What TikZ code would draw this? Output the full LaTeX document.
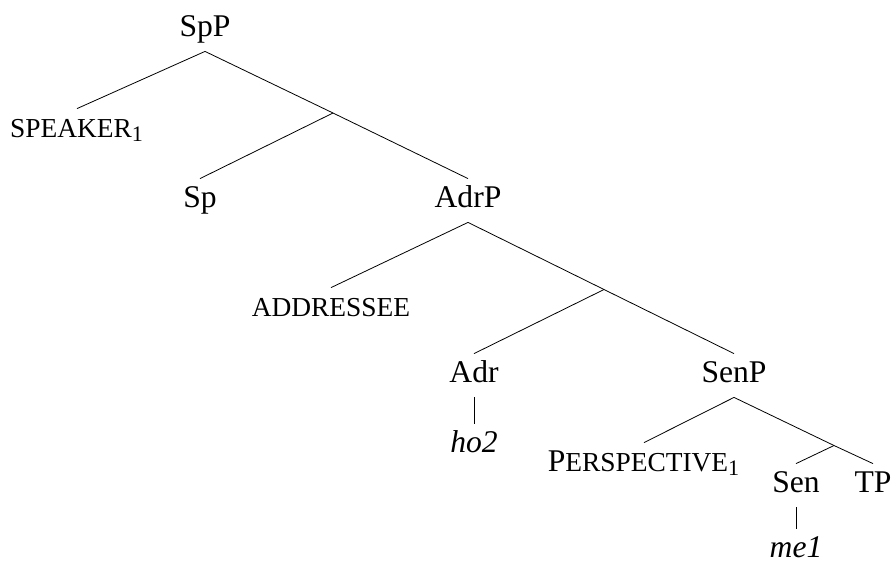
\documentclass[tikz,border=0pt]{standalone}
\usepackage{fontspec}
\setmainfont{Liberation Serif}
\newcommand{\fsc}[1]{{\fontsize{13.7}{16}\selectfont #1}}
\tikzset{
  lab/.style={anchor=base, inner sep=4pt, text height=10pt, text depth=3.5pt},
}
\begin{document}
\begin{tikzpicture}[x=0.5pt, y=-0.5pt, font=\fontsize{15.8}{18}\selectfont]%
\useasboundingbox (0,0) rectangle (892,563);%
%
% SpP level
\node[lab] (spp) at (205,36) {SpP};%
\node[lab] (speaker) at (77,137) {\fsc{SPEAKER}\textsubscript{1}};%
\coordinate (bar1) at (333,113);%
\node[lab] (sp) at (200,207) {Sp};%
\node[lab] (adrp) at (468,207) {AdrP};%
\draw (spp.south) -- (speaker.north);%
\draw (spp.south) -- (bar1) -- (adrp.north);%
\draw (bar1) -- (sp.north);%
%
% AdrP level
\node[lab] (addressee) at (331,316) {\fsc{ADDRESSEE}};%
\coordinate (bar2) at (604,289.5);%
\node[lab] (adr) at (474,382) {Adr};%
\node[lab] (senp) at (734,382) {SenP};%
\node[lab] (ho) at (474,452) {\textit{ho2}};%
\draw (adrp.south) -- (addressee.north);%
\draw (adrp.south) -- (bar2) -- (senp.north);%
\draw (bar2) -- (adr.north);%
\draw (adr.south) -- (ho.north);%
%
% SenP level
\node[lab] (persp) at (644,471) {P\fsc{ERSPECTIVE}\textsubscript{1}};%
\coordinate (bar3) at (834,445.5);%
\node[lab] (sen) at (796,492) {Sen};%
\node[lab] (tp) at (873,492) {TP};%
\node[lab] (me) at (796,557) {\textit{me1}};%
\draw (senp.south) -- (persp.north);%
\draw (senp.south) -- (bar3) -- (tp.north);%
\draw (bar3) -- (sen.north);%
\draw (sen.south) -- (me.north);%
%
\end{tikzpicture}
\end{document}
